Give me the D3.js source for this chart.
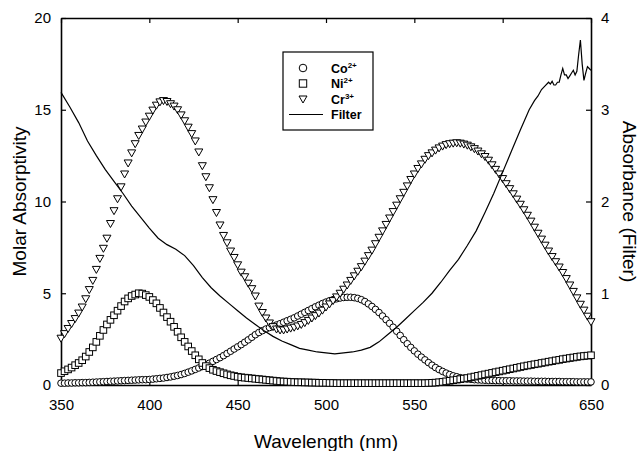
<!DOCTYPE html>
<html>
<head>
<meta charset="utf-8">
<script src="https://cdn.jsdelivr.net/npm/d3@7"></script>
<style>
  body { margin: 0; background: #fff; }
  text { font-family: "Liberation Sans", Arial, sans-serif; }
</style>
</head>
<body>
<div id="chart"></div>
<script>
// wavelength grid of the marker series (nm)
const wavelengths = [350,352,354,356,358,360,362,364,366,368,370,372,374,376,378,380,382,384,386,388,
  390,392,394,396,398,400,402,404,406,408,410,412,414,416,418,420,422,424,426,428,
  430,432,434,436,438,440,442,444,446,448,450,452,454,456,458,460,462,464,466,468,
  470,472,474,476,478,480,482,484,486,488,490,492,494,496,498,500,502,504,506,508,
  510,512,514,516,518,520,522,524,526,528,530,532,534,536,538,540,542,544,546,548,
  550,552,554,556,558,560,562,564,566,568,570,572,574,576,578,580,582,584,586,588,
  590,592,594,596,598,600,602,604,606,608,610,612,614,616,618,620,622,624,626,628,
  630,632,634,636,638,640,642,644,646,648,650];

// molar absorptivity
const co = [0.1,0.1,0.11,0.11,0.12,0.12,0.13,0.13,0.14,0.15,0.16,0.17,0.18,0.19,0.2,0.21,0.22,0.23,0.24,0.25,
  0.26,0.27,0.28,0.29,0.29,0.3,0.32,0.34,0.36,0.38,0.41,0.44,0.48,0.52,0.57,0.63,0.7,0.77,0.85,0.93,
  1.01,1.1,1.19,1.29,1.39,1.49,1.6,1.72,1.84,1.96,2.08,2.2,2.33,2.46,2.6,2.74,2.86,2.96,3.05,3.13,
  3.2,3.27,3.34,3.42,3.5,3.58,3.66,3.76,3.86,3.96,4.06,4.16,4.26,4.35,4.44,4.52,4.59,4.65,4.7,4.74,
  4.77,4.78,4.78,4.76,4.72,4.65,4.55,4.42,4.28,4.12,3.95,3.76,3.56,3.36,3.15,2.93,2.7,2.47,2.25,2.05,
  1.86,1.68,1.52,1.37,1.22,1.08,0.95,0.84,0.74,0.65,0.57,0.5,0.45,0.4,0.36,0.33,0.31,0.29,0.28,0.27,
  0.26,0.25,0.25,0.24,0.24,0.23,0.23,0.23,0.22,0.22,0.22,0.21,0.21,0.21,0.2,0.2,0.2,0.2,0.19,0.19,
  0.19,0.19,0.18,0.18,0.18,0.18,0.17,0.17,0.17,0.17,0.17];

const ni = [0.65,0.75,0.85,0.95,1.08,1.2,1.35,1.55,1.8,2.05,2.35,2.68,3.0,3.3,3.55,3.8,4.05,4.3,4.55,4.72,
  4.85,4.93,5.0,4.98,4.9,4.8,4.63,4.45,4.2,3.95,3.7,3.45,3.17,2.9,2.6,2.35,2.1,1.85,1.62,1.4,
  1.2,1.03,0.92,0.83,0.76,0.7,0.64,0.58,0.53,0.49,0.45,0.42,0.4,0.38,0.36,0.34,0.32,0.3,0.28,0.26,
  0.24,0.22,0.2,0.19,0.18,0.17,0.16,0.15,0.15,0.14,0.14,0.13,0.13,0.12,0.12,0.12,0.11,0.11,0.1,0.1,
  0.1,0.1,0.1,0.1,0.1,0.1,0.1,0.1,0.1,0.1,0.1,0.1,0.1,0.1,0.1,0.1,0.1,0.1,0.1,0.1,
  0.1,0.1,0.1,0.1,0.11,0.12,0.13,0.15,0.17,0.2,0.23,0.26,0.29,0.32,0.35,0.38,0.42,0.46,0.5,0.54,
  0.58,0.62,0.66,0.7,0.74,0.78,0.82,0.86,0.9,0.94,0.98,1.02,1.06,1.09,1.13,1.16,1.2,1.23,1.27,1.3,
  1.34,1.37,1.41,1.44,1.47,1.5,1.53,1.56,1.58,1.6,1.62];

const cr = [2.55,2.8,3.08,3.35,3.62,3.92,4.25,4.7,5.2,5.7,6.3,6.9,7.45,8.0,8.8,9.5,10.15,10.8,11.5,12.1,
  12.65,13.15,13.6,13.95,14.33,14.65,14.98,15.25,15.43,15.5,15.45,15.33,15.2,15.0,14.72,14.4,14.05,13.7,13.3,12.7,
  11.95,11.35,10.75,10.1,9.4,8.72,8.15,7.75,7.3,6.95,6.55,6.15,5.9,5.55,5.25,4.85,4.3,3.95,3.65,3.38,
  3.18,3.05,3.0,3.0,3.05,3.1,3.15,3.22,3.3,3.4,3.52,3.65,3.78,3.92,4.08,4.25,4.42,4.6,4.8,5.0,
  5.22,5.45,5.7,5.95,6.2,6.45,6.75,7.05,7.35,7.7,8.05,8.4,8.75,9.1,9.45,9.8,10.15,10.5,10.85,11.2,
  11.5,11.8,12.05,12.3,12.5,12.65,12.8,12.92,13.02,13.1,13.15,13.18,13.2,13.18,13.13,13.07,12.98,12.88,12.75,12.6,
  12.45,12.25,12.0,11.75,11.5,11.25,10.97,10.7,10.42,10.13,9.85,9.55,9.25,8.93,8.6,8.27,7.95,7.62,7.3,7.0,
  6.72,6.43,6.13,5.8,5.45,5.1,4.75,4.4,4.08,3.75,3.45];

// filter absorbance (right axis)
const filterNm = [350,355,360,365,370,375,380,385,390,395,400,405,410,415,420,425,430,435,440,445,
  450,455,460,465,470,475,480,485,490,495,500,505,510,515,520,525,530,535,540,545,
  550,555,560,565,570,575,580,585,590,595,600,605,610,615,618,620,622,624,626,627,
  628,629,630,631,632,633,634,635,636,637,638,639,640,641,642,643,644,645,646,647,648,649,650];
const filterAbs = [3.19,3.03,2.86,2.66,2.5,2.35,2.22,2.09,1.95,1.83,1.71,1.6,1.53,1.48,1.41,1.3,1.17,1.06,0.97,0.89,
  0.81,0.73,0.66,0.59,0.53,0.48,0.44,0.4,0.38,0.36,0.35,0.34,0.35,0.36,0.38,0.41,0.47,0.55,0.63,0.72,
  0.81,0.9,1.0,1.12,1.25,1.37,1.52,1.68,1.88,2.09,2.32,2.55,2.78,3.0,3.1,3.15,3.22,3.26,3.3,3.28,
  3.31,3.27,3.27,3.3,3.3,3.38,3.45,3.38,3.38,3.34,3.37,3.4,3.43,3.38,3.42,3.6,3.76,3.5,3.32,3.4,3.47,3.45,3.43];

const xTicks = [350,400,450,500,550,600,650];
const yTicks = [0,5,10,15,20];
const y2Ticks = [0,1,2,3,4];

// chart dimensions
const margin = {top: 18, right: 51, bottom: 66, left: 61};
const width = 642 - margin.left - margin.right;
const height = 451 - margin.top - margin.bottom;

const root = d3.select("#chart")
  .append("svg")
  .attr("width", 642)
  .attr("height", 451);

const svg = root.append("g")
  .attr("transform", "translate(" + margin.left + "," + margin.top + ")");

// scales
const x = d3.scaleLinear().domain([350, 650]).range([0, width]);
const y = d3.scaleLinear().domain([0, 20]).range([height, 0]);
const y2 = d3.scaleLinear().domain([0, 4]).range([height, 0]);

// axes, ticks pointing inward
function styleAxis(g) {
  g.select(".domain").attr("stroke", "#000").attr("stroke-width", 1.6);
  g.selectAll(".tick line").attr("stroke", "#000").attr("stroke-width", 1.2);
  g.selectAll(".tick text").attr("fill", "#000").attr("font-size", 15)
    .attr("font-family", "'Liberation Sans', Arial, sans-serif");
}

svg.append("g")
  .attr("transform", "translate(0," + height + ")")
  .call(d3.axisBottom(x).tickValues(xTicks).tickSizeInner(-5).tickSizeOuter(0).tickPadding(14))
  .call(styleAxis);

svg.append("g")
  .call(d3.axisTop(x).tickValues(xTicks).tickSizeInner(-5).tickSizeOuter(0).tickFormat(""))
  .call(styleAxis);

svg.append("g")
  .call(d3.axisLeft(y).tickValues(yTicks).tickSizeInner(-5).tickSizeOuter(0).tickPadding(10))
  .call(styleAxis);

svg.append("g")
  .attr("transform", "translate(" + width + ",0)")
  .call(d3.axisRight(y2).tickValues(y2Ticks).tickSizeInner(-5).tickSizeOuter(0)
    .tickPadding(10).tickFormat(d3.format("d")))
  .call(styleAxis);

// marker series
const rows = wavelengths.map((w, i) => ({w: w, co: co[i], ni: ni[i], cr: cr[i]}));

svg.append("g").selectAll("circle")
  .data(rows)
  .enter().append("circle")
  .attr("cx", d => x(d.w))
  .attr("cy", d => y(d.co))
  .attr("r", 3.3)
  .attr("fill", "#fff")
  .attr("stroke", "#000")
  .attr("stroke-width", 1);

svg.append("g").selectAll("rect")
  .data(rows)
  .enter().append("rect")
  .attr("x", d => x(d.w) - 3.3)
  .attr("y", d => y(d.ni) - 3.3)
  .attr("width", 6.6)
  .attr("height", 6.6)
  .attr("fill", "#fff")
  .attr("stroke", "#000")
  .attr("stroke-width", 1);

const tri = "M-4,-3L4,-3L0,4Z";
svg.append("g").selectAll("path")
  .data(rows)
  .enter().append("path")
  .attr("d", tri)
  .attr("transform", d => "translate(" + x(d.w) + "," + y(d.cr) + ")")
  .attr("fill", "#fff")
  .attr("stroke", "#000")
  .attr("stroke-width", 1);

// filter line
const filterLine = d3.line()
  .x((d, i) => x(filterNm[i]))
  .y(d => y2(d));

svg.append("path")
  .datum(filterAbs)
  .attr("d", filterLine)
  .attr("fill", "none")
  .attr("stroke", "#000")
  .attr("stroke-width", 1.2);

// axis titles
root.append("text")
  .attr("x", margin.left + width / 2)
  .attr("y", 448)
  .attr("text-anchor", "middle")
  .attr("font-size", 19)
  .text("Wavelength (nm)");

root.append("text")
  .attr("transform", "translate(26," + (margin.top + height / 2) + ") rotate(-90)")
  .attr("text-anchor", "middle")
  .attr("font-size", 19)
  .text("Molar Absorptivity");

root.append("text")
  .attr("transform", "translate(623," + (margin.top + height / 2) + ") rotate(90)")
  .attr("text-anchor", "middle")
  .attr("font-size", 19)
  .text("Absorbance (Filter)");

// legend
const legend = root.append("g").attr("transform", "translate(283,52)");
legend.append("rect")
  .attr("width", 90).attr("height", 78)
  .attr("fill", "#fff").attr("stroke", "#000").attr("stroke-width", 1.2);

const legendItems = [
  {name: "Co", sup: "2+", kind: "circle"},
  {name: "Ni", sup: "2+", kind: "square"},
  {name: "Cr", sup: "3+", kind: "triangle"},
  {name: "Filter", sup: "", kind: "line"}
];

legendItems.forEach((item, i) => {
  const cy = 16 + i * 15.5;
  if (item.kind === "circle") {
    legend.append("circle").attr("cx", 20).attr("cy", cy).attr("r", 3.8)
      .attr("fill", "#fff").attr("stroke", "#000");
  } else if (item.kind === "square") {
    legend.append("rect").attr("x", 16.3).attr("y", cy - 3.7).attr("width", 7.4).attr("height", 7.4)
      .attr("fill", "#fff").attr("stroke", "#000");
  } else if (item.kind === "triangle") {
    legend.append("path").attr("d", tri).attr("transform", "translate(20," + cy + ")")
      .attr("fill", "#fff").attr("stroke", "#000");
  } else {
    legend.append("line").attr("x1", 6).attr("x2", 40).attr("y1", cy).attr("y2", cy)
      .attr("stroke", "#000").attr("stroke-width", 1.2);
  }
  const t = legend.append("text")
    .attr("x", 48)
    .attr("y", cy + 4.5)
    .attr("font-size", 12.5)
    .attr("font-weight", "bold")
    .text(item.name);
  if (item.sup) {
    t.append("tspan").attr("dy", -5).attr("font-size", 8).text(item.sup);
  }
});
</script>
</body>
</html>
